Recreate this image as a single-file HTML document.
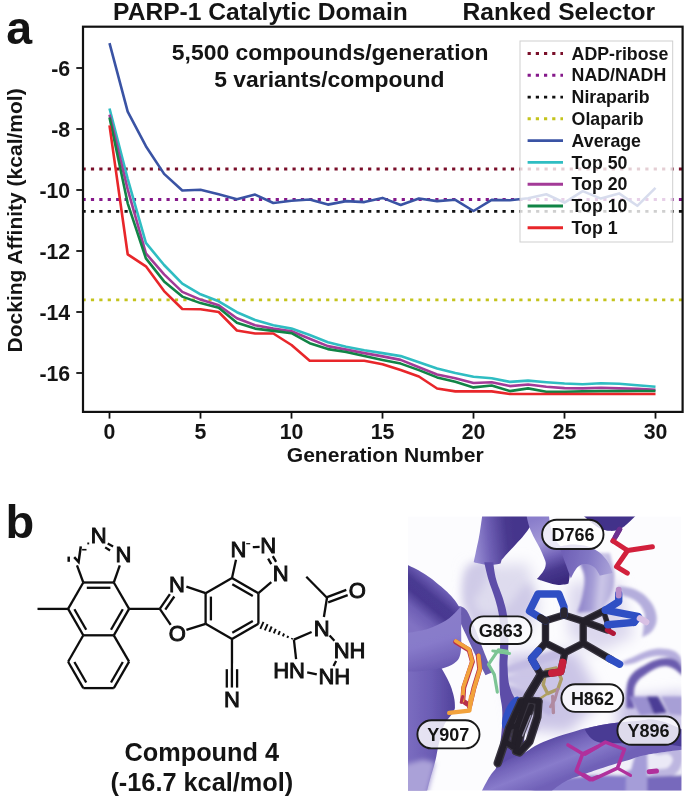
<!DOCTYPE html>
<html><head><meta charset="utf-8"><title>Figure</title>
<style>
html,body{margin:0;padding:0;background:#fff;}
body{width:685px;height:798px;overflow:hidden;position:relative;font-family:"Liberation Sans",sans-serif;}
svg{position:absolute;left:0;top:0;}
svg text{font-family:"Liberation Sans",sans-serif;font-weight:bold;fill:#141414;}
svg .ml text{font-weight:normal;}
</style></head><body>
<svg width="685" height="798" viewBox="0 0 685 798">
<rect width="685" height="798" fill="#fff"/>
<!-- panel a -->
<text x="6.2" y="43.5" font-size="46.5">a</text>
<text x="113.1" y="19.8" font-size="24.6">PARP-1 Catalytic Domain</text>
<text x="655.2" y="19.8" font-size="24.6" text-anchor="end">Ranked Selector</text>
<text x="330.2" y="59.9" font-size="22.9" text-anchor="middle">5,500 compounds/generation</text>
<text x="329.4" y="87.0" font-size="22.9" text-anchor="middle">5 variants/compound</text>
<g fill="none" stroke-width="2.8" stroke-dasharray="3.2 5.2">
<line x1="82.5" y1="169" x2="682" y2="169" stroke="#7a0f2a"/>
<line x1="82.5" y1="199.5" x2="682" y2="199.5" stroke="#85188a"/>
<line x1="82.5" y1="211.4" x2="682" y2="211.4" stroke="#111"/>
<line x1="82.5" y1="299.9" x2="682" y2="299.9" stroke="#c4c41c"/>
</g>
<g fill="none" stroke-width="2.6" stroke-linejoin="round">
<polyline points="109.5,43.1 127.7,111.7 145.9,146.2 164.1,173.9 182.3,190.5 200.5,189.7 218.7,194.3 236.9,199.3 255.1,194.6 273.3,203.0 291.5,200.8 309.7,199.5 327.9,204.6 346.1,201.1 364.3,202.1 382.5,197.9 400.7,205.0 418.9,198.5 437.1,201.1 455.3,199.8 473.5,211.0 491.7,199.9 509.9,200.3 528.1,198.3 546.3,194.3 564.5,202.6 582.7,191.1 600.9,198.6 619.1,193.4 637.3,205.8 655.5,187.8" stroke="#3a53a4"/>
<polyline points="109.5,108.5 127.7,178.8 145.9,242.9 164.1,265.0 182.3,283.7 200.5,294.3 218.7,301.3 236.9,312.2 255.1,320.0 273.3,325.3 291.5,328.6 309.7,335.0 327.9,342.3 346.1,346.7 364.3,350.2 382.5,353.1 400.7,356.1 418.9,362.2 437.1,368.6 455.3,373.0 473.5,376.8 491.7,378.3 509.9,381.9 528.1,380.6 546.3,382.2 564.5,383.5 582.7,384.2 600.9,383.2 619.1,383.8 637.3,385.2 655.5,386.8" stroke="#2fbdc2"/>
<polyline points="109.5,114.6 127.7,189.4 145.9,253.4 164.1,274.4 182.3,291.9 200.5,299.6 218.7,305.2 236.9,318.3 255.1,325.3 273.3,328.6 291.5,331.2 309.7,338.8 327.9,346.1 346.1,349.6 364.3,353.1 382.5,356.4 400.7,359.9 418.9,367.2 437.1,374.5 455.3,378.2 473.5,383.0 491.7,382.2 509.9,386.1 528.1,384.5 546.3,386.8 564.5,388.1 582.7,388.4 600.9,387.8 619.1,388.4 637.3,388.8 655.5,389.8" stroke="#a33a97"/>
<polyline points="109.5,117.6 127.7,203.3 145.9,258.4 164.1,281.4 182.3,296.6 200.5,303.1 218.7,307.8 236.9,322.8 255.1,328.6 273.3,330.9 291.5,333.2 309.7,343.2 327.9,349.1 346.1,352.0 364.3,356.1 382.5,359.9 400.7,363.6 418.9,370.1 437.1,377.4 455.3,381.8 473.5,387.4 491.7,385.5 509.9,391.1 528.1,388.4 546.3,391.7 564.5,391.7 582.7,391.4 600.9,391.1 619.1,391.1 637.3,391.0 655.5,391.0" stroke="#118446"/>
<polyline points="109.5,125.4 127.7,254.3 145.9,266.3 164.1,291.1 182.3,309.0 200.5,309.3 218.7,312.0 236.9,330.5 255.1,333.5 273.3,333.5 291.5,345.0 309.7,360.7 327.9,360.7 346.1,360.7 364.3,360.7 382.5,364.2 400.7,370.1 418.9,376.5 437.1,388.5 455.3,391.4 473.5,391.4 491.7,391.4 509.9,394.0 528.1,394.0 546.3,394.0 564.5,394.0 582.7,394.0 600.9,394.0 619.1,394.0 637.3,394.0 655.5,394.0" stroke="#e8262a"/>

</g>
<rect x="520" y="41" width="152.7" height="201" fill="#fff" fill-opacity="0.8" stroke="#cfcfcf" stroke-width="1"/>
<g font-size="17.75"><line x1="527.6" y1="53.5" x2="563" y2="53.5" stroke="#7a0f2a" stroke-width="2.9" stroke-dasharray="3.2 5"/><text x="571.6" y="59.6">ADP-ribose</text><line x1="527.6" y1="75.3" x2="563" y2="75.3" stroke="#85188a" stroke-width="2.9" stroke-dasharray="3.2 5"/><text x="571.6" y="81.4">NAD/NADH</text><line x1="527.6" y1="97.1" x2="563" y2="97.1" stroke="#111" stroke-width="2.9" stroke-dasharray="3.2 5"/><text x="571.6" y="103.2">Niraparib</text><line x1="527.6" y1="118.8" x2="563" y2="118.8" stroke="#c4c41c" stroke-width="2.9" stroke-dasharray="3.2 5"/><text x="571.6" y="124.9">Olaparib</text><line x1="527.6" y1="140.6" x2="563" y2="140.6" stroke="#3a53a4" stroke-width="2.9"/><text x="571.6" y="146.7">Average</text><line x1="527.6" y1="162.4" x2="563" y2="162.4" stroke="#2fbdc2" stroke-width="2.9"/><text x="571.6" y="168.5">Top 50</text><line x1="527.6" y1="184.2" x2="563" y2="184.2" stroke="#a33a97" stroke-width="2.9"/><text x="571.6" y="190.3">Top 20</text><line x1="527.6" y1="206.0" x2="563" y2="206.0" stroke="#118446" stroke-width="2.9"/><text x="571.6" y="212.1">Top 10</text><line x1="527.6" y1="227.7" x2="563" y2="227.7" stroke="#e8262a" stroke-width="2.9"/><text x="571.6" y="233.8">Top 1</text></g>
<rect x="83" y="26.7" width="599.6" height="385.2" fill="none" stroke="#111" stroke-width="2.2"/>
<g stroke="#111" stroke-width="1.8"><line x1="76.3" y1="68" x2="83" y2="68"/><line x1="76.3" y1="129" x2="83" y2="129"/><line x1="76.3" y1="190" x2="83" y2="190"/><line x1="76.3" y1="251" x2="83" y2="251"/><line x1="76.3" y1="312" x2="83" y2="312"/><line x1="76.3" y1="373" x2="83" y2="373"/><line x1="109.5" y1="412" x2="109.5" y2="418.6"/><line x1="200.5" y1="412" x2="200.5" y2="418.6"/><line x1="291.5" y1="412" x2="291.5" y2="418.6"/><line x1="382.5" y1="412" x2="382.5" y2="418.6"/><line x1="473.5" y1="412" x2="473.5" y2="418.6"/><line x1="564.5" y1="412" x2="564.5" y2="418.6"/><line x1="655.5" y1="412" x2="655.5" y2="418.6"/></g>
<g font-size="21.3"><text x="70.2" y="75.5" text-anchor="end">-6</text><text x="70.2" y="136.5" text-anchor="end">-8</text><text x="70.2" y="197.5" text-anchor="end">-10</text><text x="70.2" y="258.5" text-anchor="end">-12</text><text x="70.2" y="319.5" text-anchor="end">-14</text><text x="70.2" y="380.5" text-anchor="end">-16</text><text x="109.5" y="439" text-anchor="middle">0</text><text x="200.5" y="439" text-anchor="middle">5</text><text x="291.5" y="439" text-anchor="middle">10</text><text x="382.5" y="439" text-anchor="middle">15</text><text x="473.5" y="439" text-anchor="middle">20</text><text x="564.5" y="439" text-anchor="middle">25</text><text x="655.5" y="439" text-anchor="middle">30</text></g>
<text x="385.2" y="462.4" font-size="21.1" text-anchor="middle">Generation Number</text>
<text transform="translate(21.5,220.4) rotate(-90)" font-size="21" text-anchor="middle">Docking Affinity (kcal/mol)</text>
<!-- panel b -->
<text x="5.6" y="538" font-size="47">b</text>
<g stroke="#0d0d0d" stroke-width="2.3" stroke-linecap="butt" fill="none">
<line x1="83.3" y1="582.5" x2="113.8" y2="582.5"/>
<line x1="113.8" y1="582.5" x2="129.1" y2="608.9"/>
<line x1="129.1" y1="608.9" x2="113.8" y2="635.3"/>
<line x1="113.8" y1="635.3" x2="83.3" y2="635.3"/>
<line x1="83.3" y1="635.3" x2="68.1" y2="608.9"/>
<line x1="68.1" y1="608.9" x2="83.3" y2="582.5"/>
<line x1="86.8" y1="587.8" x2="110.4" y2="587.8"/>
<line x1="122.8" y1="609.2" x2="111.0" y2="629.7"/>
<line x1="86.2" y1="629.7" x2="74.4" y2="609.2"/>
<line x1="113.8" y1="635.3" x2="129.1" y2="661.7"/>
<line x1="129.1" y1="661.7" x2="113.8" y2="688.1"/>
<line x1="113.8" y1="688.1" x2="83.3" y2="688.1"/>
<line x1="83.3" y1="688.1" x2="68.1" y2="661.7"/>
<line x1="68.1" y1="661.7" x2="83.3" y2="635.3"/>
<line x1="122.8" y1="662.0" x2="111.0" y2="682.5"/>
<line x1="86.2" y1="682.5" x2="74.4" y2="662.0"/>
<line x1="68.1" y1="608.9" x2="37.5" y2="608.9"/>
<line x1="113.8" y1="582.5" x2="119.8" y2="565.4"/>
<line x1="83.3" y1="582.5" x2="77.0" y2="565.4"/>
<line x1="107.7" y1="543.5" x2="113.1" y2="546.4"/>
<line x1="105.2" y1="547.4" x2="110.1" y2="550.5"/>
<line x1="129.1" y1="608.9" x2="159.8" y2="608.8"/>
<line x1="232.0" y1="578.0" x2="258.4" y2="593.2"/>
<line x1="258.4" y1="593.2" x2="258.4" y2="623.8"/>
<line x1="258.4" y1="623.8" x2="232.0" y2="639.0"/>
<line x1="232.0" y1="639.0" x2="205.6" y2="623.8"/>
<line x1="205.6" y1="623.8" x2="205.6" y2="593.2"/>
<line x1="205.6" y1="593.2" x2="232.0" y2="578.0"/>
<line x1="210.9" y1="596.6" x2="210.9" y2="620.4"/>
<line x1="232.3" y1="584.3" x2="252.8" y2="596.1"/>
<line x1="252.8" y1="620.9" x2="232.3" y2="632.7"/>
<line x1="159.8" y1="608.8" x2="169.9" y2="594.2"/>
<line x1="165.3" y1="609.6" x2="174.3" y2="596.5"/>
<line x1="159.8" y1="608.8" x2="170.7" y2="624.9"/>
<line x1="186.4" y1="586.7" x2="205.6" y2="593.2"/>
<line x1="186.4" y1="629.8" x2="205.6" y2="623.8"/>
<line x1="232.0" y1="578.0" x2="236.0" y2="559.7"/>
<line x1="258.4" y1="593.2" x2="271.3" y2="582.2"/>
<line x1="252.8" y1="547.2" x2="259.6" y2="546.9"/>
<line x1="272.8" y1="556.1" x2="276.1" y2="561.8"/>
<line x1="268.1" y1="558.6" x2="271.3" y2="564.1"/>
<line x1="232.0" y1="639.0" x2="231.9" y2="687.6"/>
<line x1="226.8" y1="669.2" x2="226.8" y2="687.6"/>
<line x1="237.1" y1="669.2" x2="237.1" y2="687.6"/>
<line x1="263.5" y1="621.8" x2="260.3" y2="628.8" stroke-width="1.9"/>
<line x1="267.6" y1="624.1" x2="264.8" y2="630.3" stroke-width="1.9"/>
<line x1="271.7" y1="626.5" x2="269.3" y2="631.8" stroke-width="1.9"/>
<line x1="275.8" y1="628.8" x2="273.8" y2="633.3" stroke-width="1.9"/>
<line x1="279.9" y1="631.1" x2="278.3" y2="634.9" stroke-width="1.9"/>
<line x1="284.1" y1="633.5" x2="282.8" y2="636.4" stroke-width="1.9"/>
<line x1="288.2" y1="635.8" x2="287.3" y2="637.9" stroke-width="1.9"/>
<line x1="292.3" y1="638.1" x2="291.8" y2="639.4" stroke-width="1.9"/>
<line x1="293.9" y1="639.6" x2="311.6" y2="632.0"/>
<line x1="293.9" y1="639.6" x2="296.1" y2="659.1"/>
<line x1="307.2" y1="672.3" x2="316.8" y2="674.4"/>
<line x1="329.6" y1="635.4" x2="334.4" y2="640.7"/>
<line x1="336.1" y1="660.9" x2="333.5" y2="666.1"/>
<line x1="327.0" y1="597.7" x2="323.9" y2="617.0"/>
<line x1="327.0" y1="597.7" x2="306.3" y2="576.7"/>
<line x1="326.5" y1="597.4" x2="346.3" y2="589.9"/>
<line x1="328.2" y1="602.3" x2="347.7" y2="595.2"/>
<line x1="68.7" y1="556.6" x2="68.7" y2="561.8" stroke-width="2.5"/><polyline points="74.2,557.2 78.6,562 80.8,546.3" stroke-width="2.5" stroke-linejoin="miter"/><line x1="82.1" y1="549.7" x2="86.5" y2="549.7" stroke-width="1.6"/><rect x="87.3" y="542.5" width="1.9" height="1.9" fill="#0d0d0d" stroke="none"/><line x1="246.2" y1="543.7" x2="250.2" y2="543.7" stroke-width="1.2"/></g>
<g class="ml" font-size="22.0" stroke="#0d0d0d" stroke-width="0.95" stroke-linejoin="miter" fill="#0d0d0d"><text x="98.7" y="543.4" text-anchor="middle">N</text><text x="123.4" y="561.9" text-anchor="middle">N</text><text x="176.9" y="592.1" text-anchor="middle">N</text><text x="177.2" y="641.0" text-anchor="middle">O</text><text x="238.5" y="556.6" text-anchor="middle">N</text><text x="268.2" y="553.3" text-anchor="middle">N</text><text x="280.7" y="581.4" text-anchor="middle">N</text><text x="232.0" y="707.3" text-anchor="middle">N</text><text x="357.2" y="597.8" text-anchor="middle">O</text><text x="321.7" y="635.5" text-anchor="middle">N</text><text x="333.7" y="658.4" text-anchor="start">NH</text><text x="318.4" y="684.3" text-anchor="start">NH</text><text x="305.0" y="677.6" text-anchor="end">HN</text></g>

<defs><clipPath id="ic"><rect x="408" y="516.5" width="273.4" height="274.1"/></clipPath><filter id="b1" x="-40%" y="-40%" width="180%" height="180%"><feGaussianBlur stdDeviation="0.7"/></filter><filter id="b2" x="-40%" y="-40%" width="180%" height="180%"><feGaussianBlur stdDeviation="1.6"/></filter><filter id="b3" x="-40%" y="-40%" width="180%" height="180%"><feGaussianBlur stdDeviation="2.6"/></filter><filter id="b4" x="-40%" y="-40%" width="180%" height="180%"><feGaussianBlur stdDeviation="4"/></filter><filter id="b7" x="-40%" y="-40%" width="180%" height="180%"><feGaussianBlur stdDeviation="7"/></filter><linearGradient id="gS1" gradientUnits="userSpaceOnUse" x1="474.5" y1="542.6" x2="515.4" y2="538.5"><stop offset="0" stop-color="#968bd2"/><stop offset="0.35" stop-color="#7061b6"/><stop offset="0.8" stop-color="#49398f"/><stop offset="1" stop-color="#45358c"/></linearGradient><linearGradient id="gS2" gradientUnits="userSpaceOnUse" x1="535.7" y1="519.3" x2="559.3" y2="582.3"><stop offset="0" stop-color="#8a7ecb"/><stop offset="0.35" stop-color="#a499d8"/><stop offset="0.6" stop-color="#7263b8"/><stop offset="0.8" stop-color="#48388e"/><stop offset="1" stop-color="#3a2a7e"/></linearGradient><linearGradient id="gS3" gradientUnits="userSpaceOnUse" x1="562.0" y1="556.0" x2="611.9" y2="566.5"><stop offset="0" stop-color="#6f60b6"/><stop offset="0.5" stop-color="#8176c4"/><stop offset="1" stop-color="#a9a1d8"/></linearGradient><linearGradient id="gL1" gradientUnits="userSpaceOnUse" x1="411.0" y1="624.2" x2="441.1" y2="588.1"><stop offset="0" stop-color="#8172c3"/><stop offset="0.3" stop-color="#6e5fb5"/><stop offset="0.55" stop-color="#493991"/><stop offset="0.75" stop-color="#4a3a92"/><stop offset="1" stop-color="#6c5db4"/></linearGradient><linearGradient id="gL2" gradientUnits="userSpaceOnUse" x1="426.1" y1="619.7" x2="441.1" y2="670.8"><stop offset="0" stop-color="#8a7eca"/><stop offset="0.45" stop-color="#877aca"/><stop offset="0.8" stop-color="#7465ba"/><stop offset="1" stop-color="#6556ae"/></linearGradient><linearGradient id="gL3" gradientUnits="userSpaceOnUse" x1="408.0" y1="690.3" x2="454.6" y2="690.3"><stop offset="0" stop-color="#7b6dc0"/><stop offset="0.5" stop-color="#6b5cb4"/><stop offset="1" stop-color="#52439c"/></linearGradient><linearGradient id="gB1" gradientUnits="userSpaceOnUse" x1="560.3" y1="732.8" x2="576.7" y2="773.6"><stop offset="0" stop-color="#5848a2"/><stop offset="0.3" stop-color="#7364ba"/><stop offset="0.6" stop-color="#887bcb"/><stop offset="1" stop-color="#6f60b7"/></linearGradient><linearGradient id="gR1" gradientUnits="userSpaceOnUse" x1="579.0" y1="577.5" x2="614.1" y2="581.0"><stop offset="0" stop-color="#8a7fc7"/><stop offset="0.4" stop-color="#a59dd6"/><stop offset="0.65" stop-color="#cbc6e7"/><stop offset="1" stop-color="#b2abdb"/></linearGradient></defs>
<g clip-path="url(#ic)">
<rect x="408" y="516.5" width="273.4" height="274.1" fill="#fcfcfe"/>
<g filter="url(#b7)">
<path d="M466.3 567.1 L527.6 563.1 L539.9 608.0 L527.6 636.6 L474.5 636.6 Z" fill="#dedbee" />
</g><g filter="url(#b4)">
<path d="M470.4 565.1 C476.1 560.2 488.4 558.6 490.8 563.1 C493.3 567.5 485.5 579.8 482.7 587.6 C479.8 595.3 475.7 596.6 476.5 601.9 C477.4 607.2 480.6 613.3 486.8 614.1 C492.9 615.0 499.0 612.1 507.2 606.0 C515.4 599.8 522.7 583.1 527.6 583.5 C532.5 583.9 535.0 599.4 531.7 608.0 C528.4 616.6 521.1 622.3 511.3 626.4 C501.5 630.5 491.7 631.3 482.7 628.5 C473.7 625.6 470.4 620.3 466.3 612.1 C462.2 603.9 461.4 597.0 462.2 587.6 C463.0 578.2 464.7 570.0 470.4 565.1 Z" fill="#cfcae7" />
</g><g filter="url(#b7)">
<path d="M503.1 655.1 L576.7 651.0 L601.2 700.1 L568.5 732.8 L515.4 728.7 Z" fill="#cbc5e6" />
<path d="M568.5 583.5 L617.6 579.4 L633.9 636.6 L597.1 653.0 L568.5 636.6 Z" fill="#dcd8ee" />
<path d="M617.6 700.1 L687.0 691.9 L687.0 792.0 L617.6 792.0 Z" fill="#c9c3e6" />
</g>
<g filter="url(#b2)">
<path d="M577.3 553.0 C577.3 553.0 609.7 553.0 609.7 553.0 C609.7 553.0 611.4 558.6 612.3 563.5 C613.2 568.4 614.7 571.2 614.4 577.5 C614.1 583.8 613.8 588.3 610.9 595.0 C608.0 601.8 600.0 611.2 600.0 611.2 C600.0 611.2 577.3 612.6 577.3 612.6 C577.3 612.6 581.1 602.0 582.5 595.0 C583.9 588.0 584.8 583.8 584.3 577.5 C583.7 571.2 581.3 568.4 579.9 563.5 C578.5 558.6 577.3 553.0 577.3 553.0 Z" fill="url(#gR1)" />
<path d="M617.6 586.3 C617.6 586.3 628.7 586.6 635.1 589.4 C641.5 592.2 645.2 595.0 649.4 600.3 C653.7 605.6 655.7 610.1 656.5 616.1 C657.2 622.0 655.8 625.8 652.9 630.1 C650.1 634.4 642.1 637.4 642.1 637.4 C642.1 637.4 643.1 631.9 643.5 626.9 C643.9 621.9 645.9 617.8 644.2 612.6 C642.5 607.3 639.4 604.1 635.1 600.6 C630.7 597.2 622.5 595.4 622.5 595.4 C622.5 595.4 617.6 586.3 617.6 586.3 Z" fill="#b4addc" />
</g>
<g filter="url(#b2)">
<path d="M621.5 662.2 C621.5 662.2 627.3 659.6 633.2 657.1 C639.0 654.6 644.0 651.4 650.7 649.8 C657.4 648.2 661.2 648.2 666.8 649.1 C672.3 649.9 675.2 651.1 678.4 654.2 C681.7 657.2 683.1 664.4 683.1 664.4 C683.1 664.4 682.5 674.6 682.5 674.6 C682.5 674.6 681.6 667.9 678.4 664.4 C675.3 660.9 672.3 658.6 666.8 657.1 C661.2 655.6 657.1 655.9 650.7 657.1 C644.3 658.3 639.9 661.4 634.6 662.9 C629.4 664.5 624.4 664.7 624.4 664.7 C624.4 664.7 621.5 662.2 621.5 662.2 Z" fill="#b6aedd" />
<path d="M626.6 708.2 C626.6 708.2 625.6 694.5 626.6 687.8 C627.6 681.0 628.4 679.0 631.7 674.6 C635.1 670.2 637.6 669.1 643.4 665.9 C649.2 662.6 654.5 659.7 660.9 658.6 C667.3 657.4 671.2 658.0 675.5 660.0 C679.8 662.1 682.5 668.8 682.5 668.8 C682.5 668.8 682.5 676.1 682.5 676.1 C682.5 676.1 676.9 669.9 672.6 668.0 C668.3 666.1 666.2 665.4 660.9 666.6 C655.7 667.8 651.1 670.7 646.3 673.9 C641.5 677.1 639.3 678.7 636.8 682.6 C634.3 686.6 634.3 688.5 633.9 693.6 C633.5 698.7 634.6 708.2 634.6 708.2 C634.6 708.2 626.6 708.2 626.6 708.2 Z" fill="#6a5bae" />
</g>
<g filter="url(#b2)">
<path d="M503.0 668.0 L560.0 648.0 L563.0 658.0 L505.0 674.0 Z" fill="#c3bce3" />
<path d="M505.0 676.0 L566.0 676.0 L566.0 688.0 L506.0 682.0 Z" fill="#cbc5e7" />
<path d="M506.0 684.0 L556.0 704.0 L550.0 716.0 L506.0 692.0 Z" fill="#bdb6e0" />
<path d="M506.0 694.0 L540.0 728.0 L530.0 738.0 L505.0 704.0 Z" fill="#c6c0e5" />
</g>
<g filter="url(#b1)">
<path d="M482.7 512.0 C482.7 512.0 539.9 512.0 539.9 512.0 C539.9 512.0 532.1 524.2 527.6 530.4 C523.1 536.5 521.5 538.0 517.4 542.6 C513.3 547.3 510.4 550.1 507.2 553.6 C504.0 557.2 501.5 560.2 501.5 560.2 C501.5 560.2 500.6 563.5 500.6 563.5 C500.6 563.5 494.2 565.3 488.8 565.1 C483.4 564.8 473.7 562.2 473.7 562.2 C473.7 562.2 475.3 554.7 476.5 548.7 C477.8 542.8 478.6 539.8 479.8 532.4 C481.0 525.0 482.7 512.0 482.7 512.0 Z" fill="url(#gS1)" />
<path d="M526.0 511.9 C526.0 511.9 548.8 511.9 548.8 511.9 C548.8 511.9 549.1 519.4 550.1 524.5 C551.2 529.7 551.8 533.0 554.1 537.6 C556.3 542.3 558.5 544.0 561.4 547.6 C564.4 551.3 567.0 552.3 568.8 556.0 C570.6 559.8 570.7 561.0 570.6 566.5 C570.6 572.1 568.5 583.6 568.5 583.6 C568.5 583.6 563.0 585.6 556.7 584.7 C550.4 583.7 537.0 578.9 537.0 578.9 C537.0 578.9 544.4 571.6 545.4 566.5 C546.5 561.5 545.2 560.8 542.3 553.4 C539.3 546.1 533.7 538.1 530.4 529.8 C527.2 521.5 526.0 511.9 526.0 511.9 Z" fill="url(#gS2)" />
<path d="M559.3 546.6 C559.3 546.6 568.3 544.1 575.1 544.5 C581.9 544.9 587.2 545.6 593.5 548.7 C599.8 551.8 602.8 555.1 606.6 560.0 C610.4 564.9 612.4 573.1 612.4 573.1 C612.4 573.1 599.8 575.7 599.8 575.7 C599.8 575.7 596.9 569.4 594.0 567.1 C591.2 564.7 588.9 563.9 585.6 563.9 C582.3 563.9 580.7 564.2 577.7 567.1 C574.8 570.0 570.9 578.4 570.9 578.4 C570.9 578.4 559.3 546.6 559.3 546.6 Z" fill="url(#gS3)" />
<path d="M578.7 511.5 C578.7 511.5 640.0 511.5 640.0 511.5 C640.0 511.5 632.9 518.7 629.0 522.2 C625.1 525.6 624.3 527.0 620.4 528.7 C616.5 530.4 614.0 531.2 609.4 530.8 C604.7 530.4 603.2 530.5 597.1 526.7 C591.0 522.8 578.7 511.5 578.7 511.5 Z" fill="#43338a" />
</g>
<g filter="url(#b1)">
<path d="M484.3 562.2 C484.3 562.2 486.2 571.9 488.4 579.4 C490.6 586.9 493.1 592.1 495.3 599.8 C497.5 607.6 498.4 610.9 499.4 618.2 C500.4 625.6 500.2 629.5 500.2 636.6 C500.3 643.7 500.0 647.7 499.8 653.8 C499.7 659.9 499.4 659.7 499.4 667.4 C499.4 675.0 499.3 682.9 499.8 691.9 C500.4 700.9 502.1 702.5 502.3 712.3 C502.4 722.1 502.0 729.5 500.6 740.9 C499.3 752.4 495.7 769.5 495.7 769.5 C495.7 769.5 521.5 757.3 521.5 757.3 C521.5 757.3 524.8 742.6 524.4 732.8 C523.9 722.9 522.3 717.2 519.5 708.2 C516.6 699.2 512.4 696.0 510.1 687.8 C507.7 679.6 508.0 674.1 507.6 667.4 C507.2 660.6 507.8 659.9 508.0 653.8 C508.2 647.7 508.6 644.1 508.4 636.6 C508.3 629.1 508.3 624.0 507.2 616.2 C506.0 608.4 504.9 605.2 502.7 597.8 C500.5 590.4 498.0 586.5 496.2 579.4 C494.3 572.3 493.3 562.2 493.3 562.2 C493.3 562.2 484.3 562.2 484.3 562.2 Z" fill="#5d4ea8" />
</g>
<g filter="url(#b1)">
<path d="M458.5 606.1 C458.5 606.1 463.8 606.6 466.7 610.6 C469.5 614.6 472.8 623.4 475.7 630.2 C478.5 637.0 481.0 644.2 483.8 651.2 C486.6 658.3 492.2 672.3 492.2 672.3 C492.2 672.3 485.6 675.3 485.6 675.3 C485.6 675.3 478.8 662.3 475.7 655.8 C472.5 649.2 469.4 642.2 466.7 636.2 C463.9 630.2 459.1 619.7 459.1 619.7 C459.1 619.7 458.5 606.1 458.5 606.1 Z" fill="#6b5db0" />
<path d="M402.0 562.5 C402.0 562.5 415.2 568.2 423.0 573.0 C430.9 577.9 434.8 581.2 441.1 586.6 C447.4 592.0 450.6 595.1 454.6 600.1 C458.7 605.1 461.2 611.5 461.2 611.5 C461.2 611.5 461.5 615.2 461.5 615.2 C461.5 615.2 459.3 611.7 456.1 613.0 C453.0 614.4 451.7 618.3 445.9 621.8 C440.1 625.3 435.7 627.8 427.0 630.5 C418.2 633.1 402.0 635.0 402.0 635.0 C402.0 635.0 402.0 562.5 402.0 562.5 Z" fill="url(#gL1)" />
<path d="M402.0 633.8 C402.0 633.8 419.6 631.5 427.0 629.3 C434.3 627.1 441.0 623.5 445.9 620.6 C450.8 617.7 453.6 614.2 456.1 611.8 C458.7 609.4 461.2 606.1 461.2 606.1 C461.2 606.1 461.3 619.4 461.2 627.2 C461.1 634.9 461.7 646.8 460.6 652.7 C459.5 658.7 457.8 660.3 454.6 663.0 C451.4 665.6 446.8 667.2 441.4 668.7 C436.0 670.1 429.0 671.0 422.4 671.7 C415.9 672.4 402.0 672.9 402.0 672.9 C402.0 672.9 402.0 633.8 402.0 633.8 Z" fill="url(#gL2)" />
<path d="M402.0 671.7 C402.0 671.7 414.6 671.8 422.4 671.1 C430.3 670.4 441.4 668.1 441.4 668.1 C441.4 668.1 446.6 676.8 448.9 681.9 C451.3 687.0 451.9 689.0 453.1 693.6 C454.3 698.3 454.9 701.7 454.9 705.4 C454.9 709.0 455.3 708.0 453.1 712.0 C451.0 716.0 446.9 719.3 444.1 725.2 C441.3 731.2 440.8 735.5 439.3 741.8 C437.7 748.0 437.3 751.8 436.3 756.5 C435.3 761.2 435.5 760.4 434.2 765.2 C432.8 770.0 431.3 774.5 429.7 780.6 C428.0 786.6 426.1 795.6 426.1 795.6 C426.1 795.6 402.0 795.6 402.0 795.6 C402.0 795.6 402.0 671.7 402.0 671.7 Z" fill="url(#gL3)" />
</g>
<path d="M402.0 765.5 L423.0 759.5 L435.1 762.5 L431.5 777.6 L426.7 795.6 L402.0 795.6 Z" fill="#aaa1d8" filter="url(#b3)"/>
<g filter="url(#b2)">
<path d="M563.4 774.9 L630.8 753.4 L688.1 747.3 L688.1 794.3 L528.7 794.3 L528.7 788.1 Z" fill="#ebe9f6" />
<path d="M532.7 783.0 C532.7 783.0 570.2 777.1 585.9 775.9 C601.5 774.7 626.7 775.9 626.7 775.9 C626.7 775.9 626.7 794.3 626.7 794.3 C626.7 794.3 532.7 794.3 532.7 794.3 C532.7 794.3 532.7 783.0 532.7 783.0 Z" fill="#857aca" />
<path d="M626.7 749.3 C626.7 749.3 647.2 747.3 647.2 747.3 C647.2 747.3 648.2 794.3 648.2 794.3 C648.2 794.3 625.7 794.3 625.7 794.3 C625.7 794.3 626.7 749.3 626.7 749.3 Z" fill="#a59dd8" />
<path d="M647.2 747.3 C647.2 747.3 681.9 747.3 681.9 747.3 C681.9 747.3 683.6 755.4 683.0 759.5 C682.3 763.6 680.4 768.9 677.8 771.8 C675.3 774.7 672.7 776.0 667.6 776.9 C662.5 777.7 647.2 776.9 647.2 776.9 C647.2 776.9 653.0 771.3 656.4 769.7 C659.8 768.2 664.9 769.4 667.6 767.7 C670.3 766.0 672.7 761.8 672.7 759.5 C672.7 757.2 670.3 754.7 667.6 753.8 C664.9 753.0 659.8 755.5 656.4 754.4 C653.0 753.3 647.2 747.3 647.2 747.3 Z" fill="#bdb6e0" />
<path d="M647.2 776.9 L688.1 774.9 L688.1 794.3 L647.2 794.3 Z" fill="#7769bc" />
<path d="M612.4 757.5 L634.9 754.4 L630.8 769.7 L614.5 773.8 Z" fill="#f1f0f9" />
</g>
<g filter="url(#b1)">
<path d="M480.6 794.1 C480.6 794.1 486.8 780.2 491.7 773.6 C496.6 767.1 498.8 765.5 505.1 761.4 C511.5 757.3 516.6 756.8 523.5 753.2 C530.5 749.6 530.9 747.4 539.9 743.4 C548.9 739.4 556.2 736.8 568.5 733.2 C580.8 729.5 588.1 727.4 601.2 725.0 C614.3 722.6 622.5 722.2 633.9 721.3 C645.4 720.4 647.8 718.4 658.4 720.5 C669.1 722.6 687.0 731.9 687.0 731.9 C687.0 731.9 687.0 749.1 687.0 749.1 C687.0 749.1 659.0 752.5 647.0 754.8 C635.0 757.1 635.1 758.2 627.0 760.5 C618.8 762.9 614.3 764.1 606.1 766.7 C597.9 769.3 594.3 770.6 586.1 773.6 C577.8 776.7 572.4 777.7 564.8 781.8 C557.2 785.9 548.1 794.1 548.1 794.1 C548.1 794.1 480.6 794.1 480.6 794.1 Z" fill="url(#gB1)" />
<path d="M584.9 729.5 C584.9 729.5 591.4 726.6 601.2 725.0 C611.0 723.4 622.5 722.2 633.9 721.3 C645.4 720.4 647.8 718.4 658.4 720.5 C669.1 722.6 687.0 731.9 687.0 731.9 C687.0 731.9 687.0 747.5 687.0 747.5 C687.0 747.5 670.7 744.2 658.4 743.4 C646.2 742.6 638.0 743.7 625.7 743.4 C613.5 743.1 605.3 744.5 597.1 741.7 C588.9 739.0 584.9 729.5 584.9 729.5 Z" fill="#4a3a94" />
</g>
<g filter="url(#b2)">
<path d="M646.3 696.5 L658.0 696.5 L666.8 712.6 L653.6 714.1 Z" fill="#4c3c96" />
<path d="M628.8 696.5 L646.3 696.5 L653.6 714.1 L640.5 715.5 Z" fill="#9a90d0" />
<path d="M660.9 696.5 L682.8 696.5 L682.8 715.5 L669.7 714.1 Z" fill="#a79fd6" />
</g>
</g>
<g clip-path="url(#ic)">
<polyline points="455.8,641.8 469.2,650.1 472.4,661.8 463.7,687.8 462.8,700.9 467.5,704.1" stroke="#b8304a" stroke-width="5" fill="none" stroke-linecap="round" stroke-linejoin="round" />
<polyline points="455.8,641.0 469.2,649.4 472.2,661.2 463.4,687.2 462.5,700.6" stroke="#f2a23c" stroke-width="3.8" fill="none" stroke-linecap="round" stroke-linejoin="round" />
<polyline points="478.3,655.9 479.7,669.1 473.9,688.0 469.5,706.7" stroke="#b8304a" stroke-width="5" fill="none" stroke-linecap="round" stroke-linejoin="round" />
<polyline points="478.6,655.6 480.0,668.8 474.2,687.8 469.8,706.7" stroke="#f2a23c" stroke-width="4" fill="none" stroke-linecap="round" stroke-linejoin="round" />
<polyline points="471.0,696.5 469.5,710.6 449.1,712.9" stroke="#f2a23c" stroke-width="4.2" fill="none" stroke-linecap="round" stroke-linejoin="round" />
<polyline points="462.7,696.5 461.2,702.4" stroke="#b8304a" stroke-width="3" fill="none" stroke-linecap="round" stroke-linejoin="round" />
<polyline points="507.2,651.3 498.4,649.8 488.5,664.4 494.3,674.6 497.3,692.1" stroke="#7cc494" stroke-width="3.2" fill="none" stroke-linecap="round" stroke-linejoin="round" />
<polyline points="495.0,651.3 509.6,653.4" stroke="#86d0a0" stroke-width="3" fill="none" stroke-linecap="round" stroke-linejoin="round" />
<polyline points="492.6,650.9 509.4,653.5" stroke="#7cc494" stroke-width="2.6" fill="none" stroke-linecap="round" stroke-linejoin="round" />
<polyline points="546.1,670.2 556.3,668.0 561.4,679.0 557.8,689.2 547.6,693.6 543.2,684.8 546.1,670.2" stroke="#a89858" stroke-width="3.4" fill="none" stroke-linecap="round" stroke-linejoin="round" opacity="0.9"/>
<polyline points="557.8,689.2 554.9,699.4 550.5,706.7" stroke="#b08aa0" stroke-width="3" fill="none" stroke-linecap="round" stroke-linejoin="round" />
<polyline points="552.7,696.5 553.4,712.6" stroke="#b08aa0" stroke-width="3.4" fill="none" stroke-linecap="round" stroke-linejoin="round" />
<polyline points="547.6,693.6 538.8,699.4" stroke="#b0a060" stroke-width="2.4" fill="none" stroke-linecap="round" stroke-linejoin="round" />
<polyline points="568.0,745.0 582.6,753.8 597.2,746.9" stroke="#b0309c" stroke-width="3.6" fill="none" stroke-linecap="round" stroke-linejoin="round" />
<polyline points="582.6,753.8 576.2,771.0 589.9,779.8 597.2,776.8" stroke="#b0309c" stroke-width="3.6" fill="none" stroke-linecap="round" stroke-linejoin="round" />
<polyline points="585.0,754.2 605.4,742.1 624.4,749.4 617.4,768.1 592.3,779.8 583.5,774.6" stroke="#b0309c" stroke-width="3.6" fill="none" stroke-linecap="round" stroke-linejoin="round" />
<polyline points="617.4,768.1 630.5,775.4" stroke="#b0309c" stroke-width="3.2" fill="none" stroke-linecap="round" stroke-linejoin="round" />
<polyline points="649.2,771.7 656.5,771.0" stroke="#b0309c" stroke-width="5" fill="none" stroke-linecap="round" stroke-linejoin="round" />
<polyline points="619.7,529.3 613.0,541.0" stroke="#8a2a80" stroke-width="5" fill="none" stroke-linecap="round" stroke-linejoin="round" />
<polyline points="613.0,541.0 627.6,550.5 652.4,546.8" stroke="#d2203c" stroke-width="5" fill="none" stroke-linecap="round" stroke-linejoin="round" />
<polyline points="627.6,550.5 616.5,566.6 627.3,573.1" stroke="#d2203c" stroke-width="5" fill="none" stroke-linecap="round" stroke-linejoin="round" />
<polyline points="619.7,529.3 615.9,535.9" stroke="#6a3090" stroke-width="5" fill="none" stroke-linecap="round" stroke-linejoin="round" />
<ellipse cx="511.2" cy="712.8" rx="6.5" ry="17.5" transform="rotate(24 511.2 712.8)" fill="#2f4fc4"/>
<polyline points="521.1,701.4 526.4,699.7 538.5,701.4" stroke="#38343f" stroke-width="8" fill="none" stroke-linecap="round" stroke-linejoin="round" />
<polyline points="538.5,701.4 537.4,716.9 529.4,741.7 519.2,752.5 516.0,751.1" stroke="#38343f" stroke-width="8.4" fill="none" stroke-linecap="round" stroke-linejoin="round" />
<polyline points="540.2,676.2 526.4,699.7 517.4,725.2 513.3,746.6" stroke="#38343f" stroke-width="8.4" fill="none" stroke-linecap="round" stroke-linejoin="round" />
<polyline points="531.2,706.6 521.6,731.4 516.0,751.1" stroke="#38343f" stroke-width="8.2" fill="none" stroke-linecap="round" stroke-linejoin="round" />
<polyline points="521.1,701.4 509.1,727.9 505.0,741.7 497.7,763.2" stroke="#38343f" stroke-width="8.4" fill="none" stroke-linecap="round" stroke-linejoin="round" />
<polyline points="505.0,741.7 513.3,746.6" stroke="#38343f" stroke-width="8" fill="none" stroke-linecap="round" stroke-linejoin="round" />
<polyline points="509.1,727.9 517.4,725.2" stroke="#38343f" stroke-width="7" fill="none" stroke-linecap="round" stroke-linejoin="round" />
<polyline points="540.9,674.6 527.6,696.5" stroke="#38343f" stroke-width="8.6" fill="none" stroke-linecap="round" stroke-linejoin="round" />
<polyline points="545.5,643.0 545.5,620.8 563.9,615.0 583.2,621.2 583.2,643.2 564.8,652.8 545.5,643.0" stroke="#38343f" stroke-width="7.4" fill="none" stroke-linecap="round" stroke-linejoin="round" />
<polyline points="545.5,643.0 531.4,658.5 540.9,674.6 560.8,671.8 564.8,652.8" stroke="#38343f" stroke-width="7.4" fill="none" stroke-linecap="round" stroke-linejoin="round" />
<polyline points="583.2,643.2 611.1,659.5" stroke="#38343f" stroke-width="7.4" fill="none" stroke-linecap="round" stroke-linejoin="round" />
<polyline points="583.2,621.2 603.5,611.1" stroke="#38343f" stroke-width="7.4" fill="none" stroke-linecap="round" stroke-linejoin="round" />
<polyline points="583.2,621.2 607.3,630.0" stroke="#38343f" stroke-width="7.4" fill="none" stroke-linecap="round" stroke-linejoin="round" />
<polyline points="603.5,611.1 607.7,624.3" stroke="#38343f" stroke-width="5.5" fill="none" stroke-linecap="round" stroke-linejoin="round" />
<polyline points="521.1,701.4 526.4,699.7 538.5,701.4" stroke="#231f29" stroke-width="5.28" fill="none" stroke-linecap="round" stroke-linejoin="round" />
<polyline points="538.5,701.4 537.4,716.9 529.4,741.7 519.2,752.5 516.0,751.1" stroke="#231f29" stroke-width="5.54" fill="none" stroke-linecap="round" stroke-linejoin="round" />
<polyline points="540.2,676.2 526.4,699.7 517.4,725.2 513.3,746.6" stroke="#231f29" stroke-width="5.54" fill="none" stroke-linecap="round" stroke-linejoin="round" />
<polyline points="531.2,706.6 521.6,731.4 516.0,751.1" stroke="#231f29" stroke-width="5.41" fill="none" stroke-linecap="round" stroke-linejoin="round" />
<polyline points="521.1,701.4 509.1,727.9 505.0,741.7 497.7,763.2" stroke="#231f29" stroke-width="5.54" fill="none" stroke-linecap="round" stroke-linejoin="round" />
<polyline points="505.0,741.7 513.3,746.6" stroke="#231f29" stroke-width="5.28" fill="none" stroke-linecap="round" stroke-linejoin="round" />
<polyline points="509.1,727.9 517.4,725.2" stroke="#231f29" stroke-width="4.62" fill="none" stroke-linecap="round" stroke-linejoin="round" />
<polyline points="540.9,674.6 527.6,696.5" stroke="#231f29" stroke-width="5.68" fill="none" stroke-linecap="round" stroke-linejoin="round" />
<polyline points="545.5,643.0 545.5,620.8 563.9,615.0 583.2,621.2 583.2,643.2 564.8,652.8 545.5,643.0" stroke="#231f29" stroke-width="4.88" fill="none" stroke-linecap="round" stroke-linejoin="round" />
<polyline points="545.5,643.0 531.4,658.5 540.9,674.6 560.8,671.8 564.8,652.8" stroke="#231f29" stroke-width="4.88" fill="none" stroke-linecap="round" stroke-linejoin="round" />
<polyline points="583.2,643.2 611.1,659.5" stroke="#231f29" stroke-width="4.88" fill="none" stroke-linecap="round" stroke-linejoin="round" />
<polyline points="583.2,621.2 603.5,611.1" stroke="#231f29" stroke-width="4.88" fill="none" stroke-linecap="round" stroke-linejoin="round" />
<polyline points="583.2,621.2 607.3,630.0" stroke="#231f29" stroke-width="4.88" fill="none" stroke-linecap="round" stroke-linejoin="round" />
<polyline points="603.5,611.1 607.7,624.3" stroke="#231f29" stroke-width="3.63" fill="none" stroke-linecap="round" stroke-linejoin="round" />
<polyline points="530.8,715.5 522.5,735.9" stroke="#8a86a0" stroke-width="1.3" fill="none" stroke-linecap="round" stroke-linejoin="round" />
<polyline points="545.5,620.8 529.5,611.1 538.0,594.0 558.9,594.0 564.0,606.9 563.9,615.0" stroke="#2f4fc4" stroke-width="7.4" fill="none" stroke-linecap="round" stroke-linejoin="round" />
<polyline points="545.5,620.8 540.7,617.9" stroke="#2a2630" stroke-width="7.4" fill="none" stroke-linecap="round" stroke-linejoin="round" />
<polyline points="563.9,615.0 564.0,610.9" stroke="#2a2630" stroke-width="7.4" fill="none" stroke-linecap="round" stroke-linejoin="round" />
<polyline points="538.4,650.8 531.4,658.5 536.1,666.6" stroke="#2f4fc4" stroke-width="7.4" fill="none" stroke-linecap="round" stroke-linejoin="round" />
<polyline points="551.8,673.2 560.8,671.8 562.8,662.3" stroke="#c8203c" stroke-width="7.4" fill="none" stroke-linecap="round" stroke-linejoin="round" />
<polyline points="609.2,658.5 619.6,664.2" stroke="#2f4fc4" stroke-width="7.4" fill="none" stroke-linecap="round" stroke-linejoin="round" />
<polyline points="607.3,630.0 613.4,633.5" stroke="#b01838" stroke-width="5" fill="none" stroke-linecap="round" stroke-linejoin="round" />
<polyline points="607.7,624.7 633.9,622.4" stroke="#2f4fc4" stroke-width="7.4" fill="none" stroke-linecap="round" stroke-linejoin="round" />
<polyline points="605.4,610.1 618.7,601.6 618.7,594.0" stroke="#2f4fc4" stroke-width="7.4" fill="none" stroke-linecap="round" stroke-linejoin="round" />
<polyline points="605.4,610.1 637.7,616.4" stroke="#2f4fc4" stroke-width="7.4" fill="none" stroke-linecap="round" stroke-linejoin="round" />
<polyline points="633.9,622.4 638.6,617.1" stroke="#2f4fc4" stroke-width="7.4" fill="none" stroke-linecap="round" stroke-linejoin="round" />
<polyline points="618.7,595.5 618.7,589.8" stroke="#b88cc8" stroke-width="6" fill="none" stroke-linecap="round" stroke-linejoin="round" />
<polyline points="639.9,618.3 646.2,622.1" stroke="#d8c0e4" stroke-width="6.4" fill="none" stroke-linecap="round" stroke-linejoin="round" />
</g>
<rect x="542.1" y="519.8" width="61.4" height="29.2" rx="14.6" ry="14.6" fill="#fff" fill-opacity="0.82" stroke="#1a1a1a" stroke-width="1.9"/>
<text x="573.0" y="541.0" font-size="18" text-anchor="middle">D766</text>
<rect x="470.0" y="616.4" width="61.5" height="27.6" rx="13.8" ry="13.8" fill="#fff" fill-opacity="0.82" stroke="#1a1a1a" stroke-width="1.9"/>
<text x="500.8" y="636.8" font-size="18" text-anchor="middle">G863</text>
<rect x="561.4" y="684.3" width="61.9" height="27.6" rx="13.8" ry="13.8" fill="#fff" fill-opacity="0.82" stroke="#1a1a1a" stroke-width="1.9"/>
<text x="592.4" y="704.6" font-size="18" text-anchor="middle">H862</text>
<rect x="417.4" y="720.2" width="62.1" height="28.2" rx="14.1" ry="14.1" fill="#fff" fill-opacity="0.82" stroke="#1a1a1a" stroke-width="1.9"/>
<text x="448.3" y="741.0" font-size="18" text-anchor="middle">Y907</text>
<rect x="617.4" y="716.4" width="62.2" height="28.3" rx="14.15" ry="14.15" fill="#fff" fill-opacity="0.82" stroke="#1a1a1a" stroke-width="1.9"/>
<text x="648.6" y="737.0" font-size="18" text-anchor="middle">Y896</text>
<text x="201.8" y="761.2" font-size="25.3" text-anchor="middle">Compound 4</text>
<text x="201.8" y="790.5" font-size="25.3" text-anchor="middle">(-16.7 kcal/mol)</text>
</svg>
</body></html>
